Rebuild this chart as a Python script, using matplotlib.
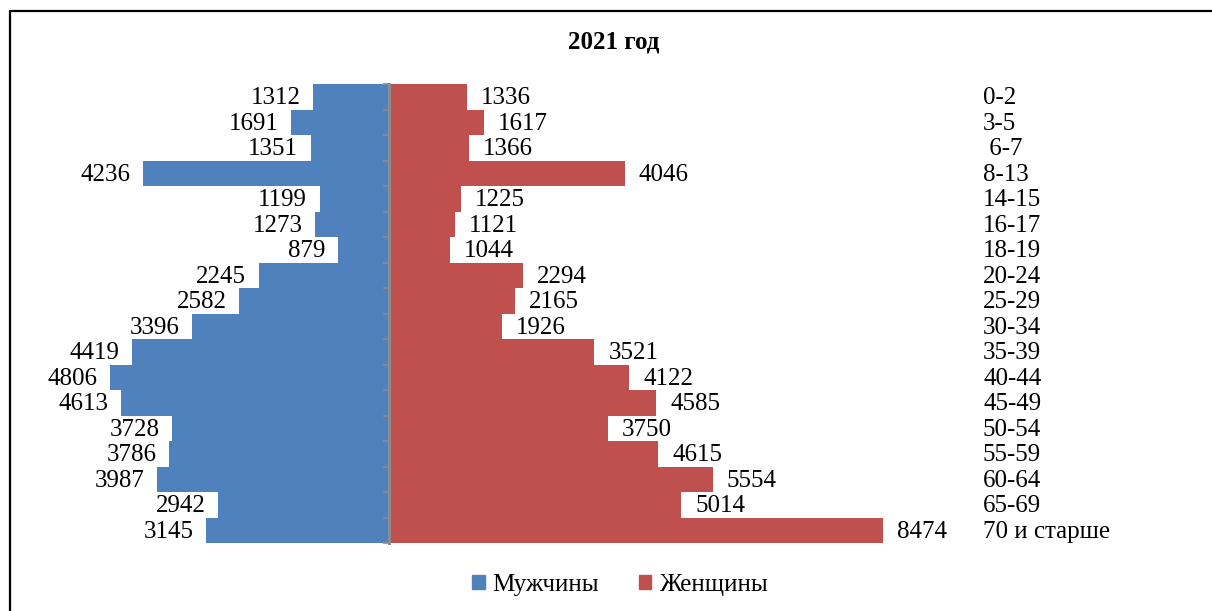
import numpy as np
import matplotlib.pyplot as plt
from matplotlib.lines import Line2D
from matplotlib.patches import Patch
import matplotlib.transforms as mtransforms

vozrast = ['0-2', '3-5', ' 6-7', '8-13', '14-15', '16-17', '18-19', '20-24', '25-29',
           '30-34', '35-39', '40-44', '45-49', '50-54', '55-59', '60-64', '65-69',
           '70 и старше']
muzhchiny = [1312, 1691, 1351, 4236, 1199, 1273, 879, 2245, 2582, 3396, 4419, 4806,
             4613, 3728, 3786, 3987, 2942, 3145]
zhenshchiny = [1336, 1617, 1366, 4046, 1225, 1121, 1044, 2294, 2165, 1926, 3521, 4122,
               4585, 3750, 4615, 5554, 5014, 8474]

plt.rcParams['font.family'] = ['Liberation Serif', 'DejaVu Serif']

W, H = 1212, 611
fig = plt.figure(figsize=(W / 100, H / 100), dpi=100)

# ramka
fig.add_artist(Line2D([9.5 / W, 9.5 / W, 1.0], [0.0, 1 - 10.5 / H, 1 - 10.5 / H],
                      transform=fig.transFigure, color='black', lw=1.6))

ax = fig.add_axes([20 / W, (H - 543) / H, 940 / W, 459 / H])
y = np.arange(len(vozrast))
niebieski = '#4F81BD'
czerwony = '#C0504D'

ax.barh(y, [-v for v in muzhchiny], height=1.0, color=niebieski, linewidth=0)
ax.barh(y, zhenshchiny, height=1.0, color=czerwony, linewidth=0)

ax.set_xlim(-6345, 9800)
ax.set_ylim(len(vozrast) - 0.5, -0.5)

for s in ['top', 'right', 'bottom']:
    ax.spines[s].set_visible(False)
ax.spines['left'].set_position(('data', 0))
ax.spines['left'].set_color('#8c8c8c')
ax.spines['left'].set_linewidth(2.2)
ax.set_yticks(np.arange(len(vozrast) + 1) - 0.5)
ax.tick_params(axis='y', length=4, width=1.2, color='#8c8c8c', direction='out',
               labelleft=False)
ax.set_xticks([])

rozm = 18
for i, (m, z) in enumerate(zip(muzhchiny, zhenshchiny)):
    ax.annotate(str(m), (-m, i), xytext=(-9, -1.2), textcoords='offset points',
                ha='right', va='center', fontsize=rozm)
    ax.annotate(str(z), (z, i), xytext=(10, -1.2), textcoords='offset points',
                ha='left', va='center', fontsize=rozm)

tr = mtransforms.blended_transform_factory(fig.transFigure, ax.transData)
for i, v in enumerate(vozrast):
    ax.annotate(v, (983 / W, i), xycoords=tr, xytext=(0, -1.2),
                textcoords='offset points', ha='left', va='center', fontsize=rozm)

fig.text(614 / W, 1 - 42 / H, '2021 год', ha='center', va='center',
         fontsize=18, fontweight='bold')

uchwyty = [Patch(color=niebieski, label='Мужчины'),
           Patch(color=czerwony, label='Женщины')]
fig.legend(handles=uchwyty, loc='center', bbox_to_anchor=(620 / W, 1 - 585 / H),
           ncol=2, frameon=False, fontsize=rozm, handlelength=0.5, handleheight=0.5,
           handletextpad=0.3, columnspacing=1.6)

fig.savefig('out.png', dpi=100)
